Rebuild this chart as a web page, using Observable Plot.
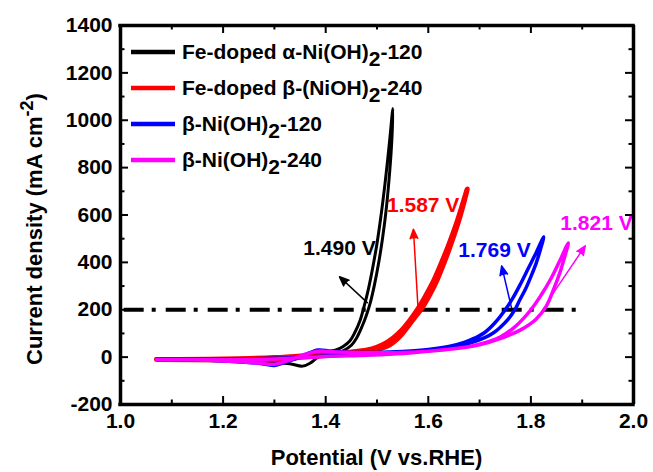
<!DOCTYPE html>
<html><head><meta charset="utf-8">
<script src="https://cdn.jsdelivr.net/npm/d3@7"></script>
<script src="https://cdn.jsdelivr.net/npm/@observablehq/plot@0.6"></script>
<style>
body{margin:0;background:#fff}
svg text{font-family:"Liberation Sans",Arial,sans-serif}
</style>
</head><body><div id="chart"></div>
<script>
// ---- data (potential V vs RHE, current density mA cm^-2) ----
const seriesNames = ["Fe-doped α-Ni(OH)2-120", "Fe-doped β-(NiOH)2-240", "β-Ni(OH)2-120", "β-Ni(OH)2-240"];
const seriesColors = ["#000000", "#ff0000", "#0000ff", "#ff00ff"];

const blackCurve = [[1.07,-8],[1.15,-10],[1.22,-13],[1.28,-18],[1.33,-28],[1.355,-38],[1.37,-25],[1.385,0],[1.40,12],[1.42,18],[1.435,28],[1.45,50],[1.46,80],[1.47,125],[1.479,175],[1.487,230],[1.495,305],[1.503,395],[1.511,505],[1.518,625],[1.525,790],[1.529,920],[1.531,1050],
  [1.524,900],[1.516,740],[1.508,600],[1.500,480],[1.491,370],[1.483,285],[1.475,215],[1.467,155],[1.457,105],[1.447,68],[1.434,45],[1.42,30],[1.40,22],[1.38,15],[1.35,5],[1.30,-2],[1.20,-6],[1.07,-8]];
const redCurve = [[1.07,-10],[1.2,-12],[1.3,-10],[1.36,0],[1.42,10],[1.47,20],[1.50,32],[1.525,52],[1.545,88],[1.56,128],[1.575,172],[1.587,205],[1.602,260],[1.617,325],[1.632,405],[1.647,495],[1.662,595],[1.676,710],
  [1.655,565],[1.639,470],[1.623,385],[1.608,312],[1.593,252],[1.578,198],[1.563,152],[1.548,113],[1.531,80],[1.511,52],[1.49,35],[1.46,24],[1.42,16],[1.38,10],[1.30,-2],[1.2,-8],[1.07,-10]];
const blueCurve = [[1.07,-8],[1.15,-12],[1.22,-18],[1.27,-26],[1.30,-35],[1.33,-15],[1.36,10],[1.385,30],[1.41,25],[1.45,20],[1.50,20],[1.55,24],[1.60,32],[1.64,45],[1.67,62],[1.69,80],[1.71,104],[1.73,145],[1.75,200],[1.765,250],[1.78,310],[1.795,375],[1.81,440],[1.825,508],
  [1.818,450],[1.81,395],[1.80,340],[1.79,290],[1.778,240],[1.77,205],[1.755,158],[1.74,125],[1.728,104],[1.71,82],[1.68,58],[1.64,40],[1.60,28],[1.55,18],[1.50,12],[1.44,8],[1.38,3],[1.30,-5],[1.2,-8],[1.07,-8]];
const magentaCurve = [[1.07,-10],[1.15,-12],[1.22,-18],[1.27,-25],[1.30,-30],[1.33,-12],[1.36,12],[1.385,25],[1.42,22],[1.50,18],[1.55,20],[1.60,25],[1.65,35],[1.70,55],[1.74,85],[1.77,130],[1.80,200],[1.82,262],[1.84,335],[1.857,410],[1.873,482],
  [1.866,425],[1.857,360],[1.845,290],[1.83,215],[1.81,160],[1.78,115],[1.74,78],[1.70,52],[1.65,35],[1.60,25],[1.55,15],[1.48,8],[1.40,3],[1.30,-8],[1.2,-10],[1.07,-10]];

const refLevel = 200;            // mA cm^-2
const refRange = [1.0, 1.893];   // V

const labelTexts = ["1.490 V", "1.587 V", "1.769 V", "1.821 V"];
const labelX = [1.427, 1.590, 1.729, 1.928];
const labelY = [461, 642, 453, 567];

const arrowFromX = [1.481, 1.580, 1.762, 1.842];
const arrowFromY = [230, 205, 210, 265];
const arrowToX = [1.427, 1.571, 1.743, 1.906];
const arrowToY = [339, 540, 385, 470];

const xMajor = [1.0, 1.2, 1.4, 1.6, 1.8, 2.0];
const xMinor = [1.1, 1.3, 1.5, 1.7, 1.9];
const yMajor = [-200, 0, 200, 400, 600, 800, 1000, 1200, 1400];
const yMinor = [-100, 100, 300, 500, 700, 900, 1100, 1300];
const xDomain = [1.0, 2.0];
const yDomain = [-200, 1400];

// ---- layout ----
const W = 653, H = 472;
const mL = 120, mR = 20, mT = 25, mB = 68;
const iw = W - mL - mR, ih = H - mT - mB;
const font = "Liberation Sans, Arial, sans-serif";
const perPxX = (xDomain[1] - xDomain[0]) / iw;
const perPxY = (yDomain[1] - yDomain[0]) / ih;

const curves = [blackCurve, redCurve, blueCurve, magentaCurve];
const widths = [3, 5, 3.5, 3.5];
const labels = labelTexts.map((t, i) => ({t, x: labelX[i], y: labelY[i], c: seriesColors[i]}));
const arrows = arrowFromX.map((_, i) => ({x1: arrowFromX[i], y1: arrowFromY[i], x2: arrowToX[i], y2: arrowToY[i], c: seriesColors[i]}));

const marks = [];
// ticks (inward, all four sides)
const tk = (len) => ({
  bottom: (vals) => Plot.ruleX(vals, {x: d => d, y1: () => yDomain[0], y2: () => yDomain[0] + len * perPxY, strokeWidth: 2}),
  top: (vals) => Plot.ruleX(vals, {x: d => d, y1: () => yDomain[1], y2: () => yDomain[1] - len * perPxY, strokeWidth: 2}),
  left: (vals) => Plot.ruleY(vals, {y: d => d, x1: () => xDomain[0], x2: () => xDomain[0] + len * perPxX, strokeWidth: 2}),
  right: (vals) => Plot.ruleY(vals, {y: d => d, x1: () => xDomain[1], x2: () => xDomain[1] - len * perPxX, strokeWidth: 2})
});
const maj = tk(8), mnr = tk(4.5);
for (const side of ["bottom", "top"]) { marks.push(maj[side](xMajor)); marks.push(mnr[side](xMinor)); }
for (const side of ["left", "right"]) { marks.push(maj[side](yMajor)); marks.push(mnr[side](yMinor)); }
// tick labels
marks.push(Plot.axisX(xMajor, {anchor: "bottom", tickSize: 0, tickPadding: 9, tickFormat: d => d.toFixed(1), fontSize: 21, fontWeight: "bold", label: null}));
marks.push(Plot.axisY(yMajor, {anchor: "left", tickSize: 0, tickPadding: 8, tickFormat: d => String(d), fontSize: 21, fontWeight: "bold", label: null}));
// reference line
marks.push(Plot.ruleY([{y: refLevel, x1: refRange[0], x2: refRange[1]}], {y: "y", x1: "x1", x2: "x2", stroke: "black", strokeWidth: 4, strokeDasharray: "20 8 4 10", strokeDashoffset: 38.3}));
// curves
curves.forEach((c, i) => {
  marks.push(Plot.line(c, {x: d => d[0], y: d => d[1], stroke: seriesColors[i], strokeWidth: widths[i], curve: "catmull-rom", strokeLinejoin: "round"}));
});
// arrows
marks.push(Plot.arrow(arrows, {x1: "x1", y1: "y1", x2: "x2", y2: "y2", stroke: "c", fill: "c", strokeWidth: 1.5, headLength: 10, headAngle: 45}));
// value labels
marks.push(Plot.text(labels, {x: "x", y: "y", text: "t", fill: "c", fontSize: 21, fontWeight: "bold"}));
// frame (axes box)
marks.push(Plot.ruleX(xDomain, {x: d => d, stroke: "black", strokeWidth: 3.5}));
marks.push(Plot.ruleY(yDomain, {y: d => d, x1: () => xDomain[0], x2: () => xDomain[1], stroke: "black", strokeWidth: 3.5, strokeLinecap: "square"}));

const svg = Plot.plot({
  width: W, height: H,
  marginLeft: mL, marginRight: mR, marginTop: mT, marginBottom: mB,
  x: {domain: xDomain},
  y: {domain: yDomain},
  style: {fontFamily: font, color: "black", background: "white"},
  marks
});
document.getElementById("chart").appendChild(svg);

// ---- legend & axis titles (rich text with sub/superscripts) ----
const s = d3.select(svg);
const legendY = [52, 88, 124, 160];
const g = s.append("g").attr("font-family", font).attr("font-weight", "bold").attr("font-size", 21).attr("text-anchor", "start");
seriesNames.forEach((name, i) => {
  g.append("line").attr("x1", 131).attr("x2", 175).attr("y1", legendY[i]).attr("y2", legendY[i])
    .attr("stroke", seriesColors[i]).attr("stroke-width", 4.5);
  const parts = name.split(")2");
  const t = g.append("text").attr("x", 182).attr("y", legendY[i] + 7).attr("fill", "black").attr("text-anchor", "start");
  t.append("tspan").text(parts[0] + ")");
  t.append("tspan").attr("dy", 7).text("2");
  t.append("tspan").attr("dy", -7).text(parts[1]);
});
s.append("text").attr("x", mL + iw / 2).attr("y", 465).attr("text-anchor", "middle")
  .attr("font-family", font).attr("font-weight", "bold").attr("font-size", 22).text("Potential (V vs.RHE)");
const yl = s.append("text").attr("transform", "translate(42,229) rotate(-90)").attr("text-anchor", "middle")
  .attr("font-family", font).attr("font-weight", "bold").attr("font-size", 22);
yl.append("tspan").text("Current density (mA cm");
yl.append("tspan").attr("dy", -9).attr("font-size", 18).text("-2");
yl.append("tspan").attr("dy", 9).text(")");
</script>
</body></html>
